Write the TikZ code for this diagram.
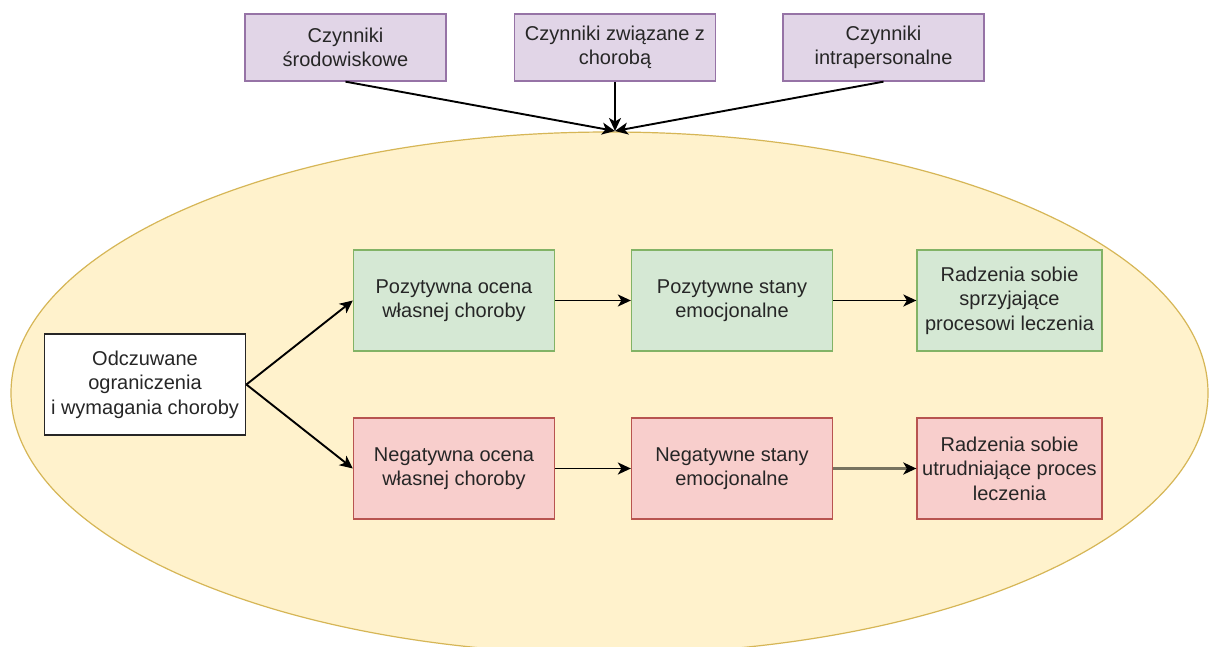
\documentclass[tikz,border=0pt]{standalone}
\usepackage{fontspec}
\setmainfont{Liberation Sans}
\usetikzlibrary{arrows.meta,shapes.geometric}

\definecolor{purpfill}{HTML}{E1D5E7}
\definecolor{purpline}{HTML}{9673A6}
\definecolor{greenfill}{HTML}{D5E8D4}
\definecolor{greenline}{HTML}{82B366}
\definecolor{redfill}{HTML}{F8CECC}
\definecolor{redline}{HTML}{B85450}
\definecolor{yellfill}{HTML}{FFF2CC}
\definecolor{yellline}{HTML}{D6B656}
\definecolor{txt}{HTML}{262626}
\definecolor{dimline}{HTML}{77735F}

\tikzset{
  box/.style={rectangle, minimum width=201pt, minimum height=101pt,
    inner sep=2pt, align=center, text=txt, line width=1.3pt,
    font=\fontsize{20}{24.5}\selectfont},
  factor/.style={box, minimum height=67pt, fill=purpfill, draw=purpline},
  goodbox/.style={box, fill=greenfill, draw=greenline},
  badbox/.style={box, fill=redfill, draw=redline},
  startbox/.style={box, fill=white, draw=black!85, line width=1.8pt},
  link/.style={line width=1.9pt, draw=black,
    -{Stealth[length=13pt,width=12pt,inset=3.5pt]}},
}

\begin{document}
\begin{tikzpicture}[x=1pt,y=-1pt]
  \useasboundingbox (0,0) rectangle (1209,647);
  \fill[white] (0,0) rectangle (1209,647);

  % context ellipse
  \begin{scope}
    \clip (0,0) rectangle (1209,647);
    \node (ctx) [ellipse, draw=yellline, fill=yellfill, line width=1.2pt,
      minimum width=1197pt, minimum height=522pt, inner sep=0pt]
      at (609.5,393) {};
  \end{scope}
  \coordinate (meet) at (615,131);

  % influencing factors
  \node (f1) [factor] at (345.5,47.5) {Czynniki\\środowiskowe};
  \node (f2) [factor] at (615,47.5) {Czynniki związane z\\chorobą};
  \node (f3) [factor] at (883.5,47.5) {Czynniki\\intrapersonalne};

  \draw[link] (f1.south) -- (meet);
  \draw[link] (f2.south) -- (meet);
  \draw[link] (f3.south) -- (meet);

  % appraisal paths
  \node (start) [startbox] at (145,384.5) {Odczuwane\\ograniczenia\\i wymagania choroby};

  \node (p1) [goodbox] at (454,300.5) {Pozytywna ocena\\własnej choroby};
  \node (p2) [goodbox] at (732,300.5) {Pozytywne stany\\emocjonalne};
  \node (p3) [goodbox, minimum width=185pt] at (1009.5,300.5) {Radzenia sobie\\sprzyjające\\procesowi leczenia};

  \node (n1) [badbox] at (454,468.5) {Negatywna ocena\\własnej choroby};
  \node (n2) [badbox] at (732,468.5) {Negatywne stany\\emocjonalne};
  \node (n3) [badbox, minimum width=185pt] at (1009.5,468.5) {Radzenia sobie\\utrudniające proces\\leczenia};

  \draw[link] (start.east) -- (p1.west);
  \draw[link] (start.east) -- (n1.west);
  \draw[link] (p1) -- (p2);
  \draw[link] (p2) -- (p3);
  \draw[link] (n1) -- (n2);
  \draw[link, draw=dimline, line width=2.6pt,
    -{Stealth[length=13pt,width=12pt,inset=3.5pt,color=black]}] (n2) -- (n3);
\end{tikzpicture}
\end{document}
